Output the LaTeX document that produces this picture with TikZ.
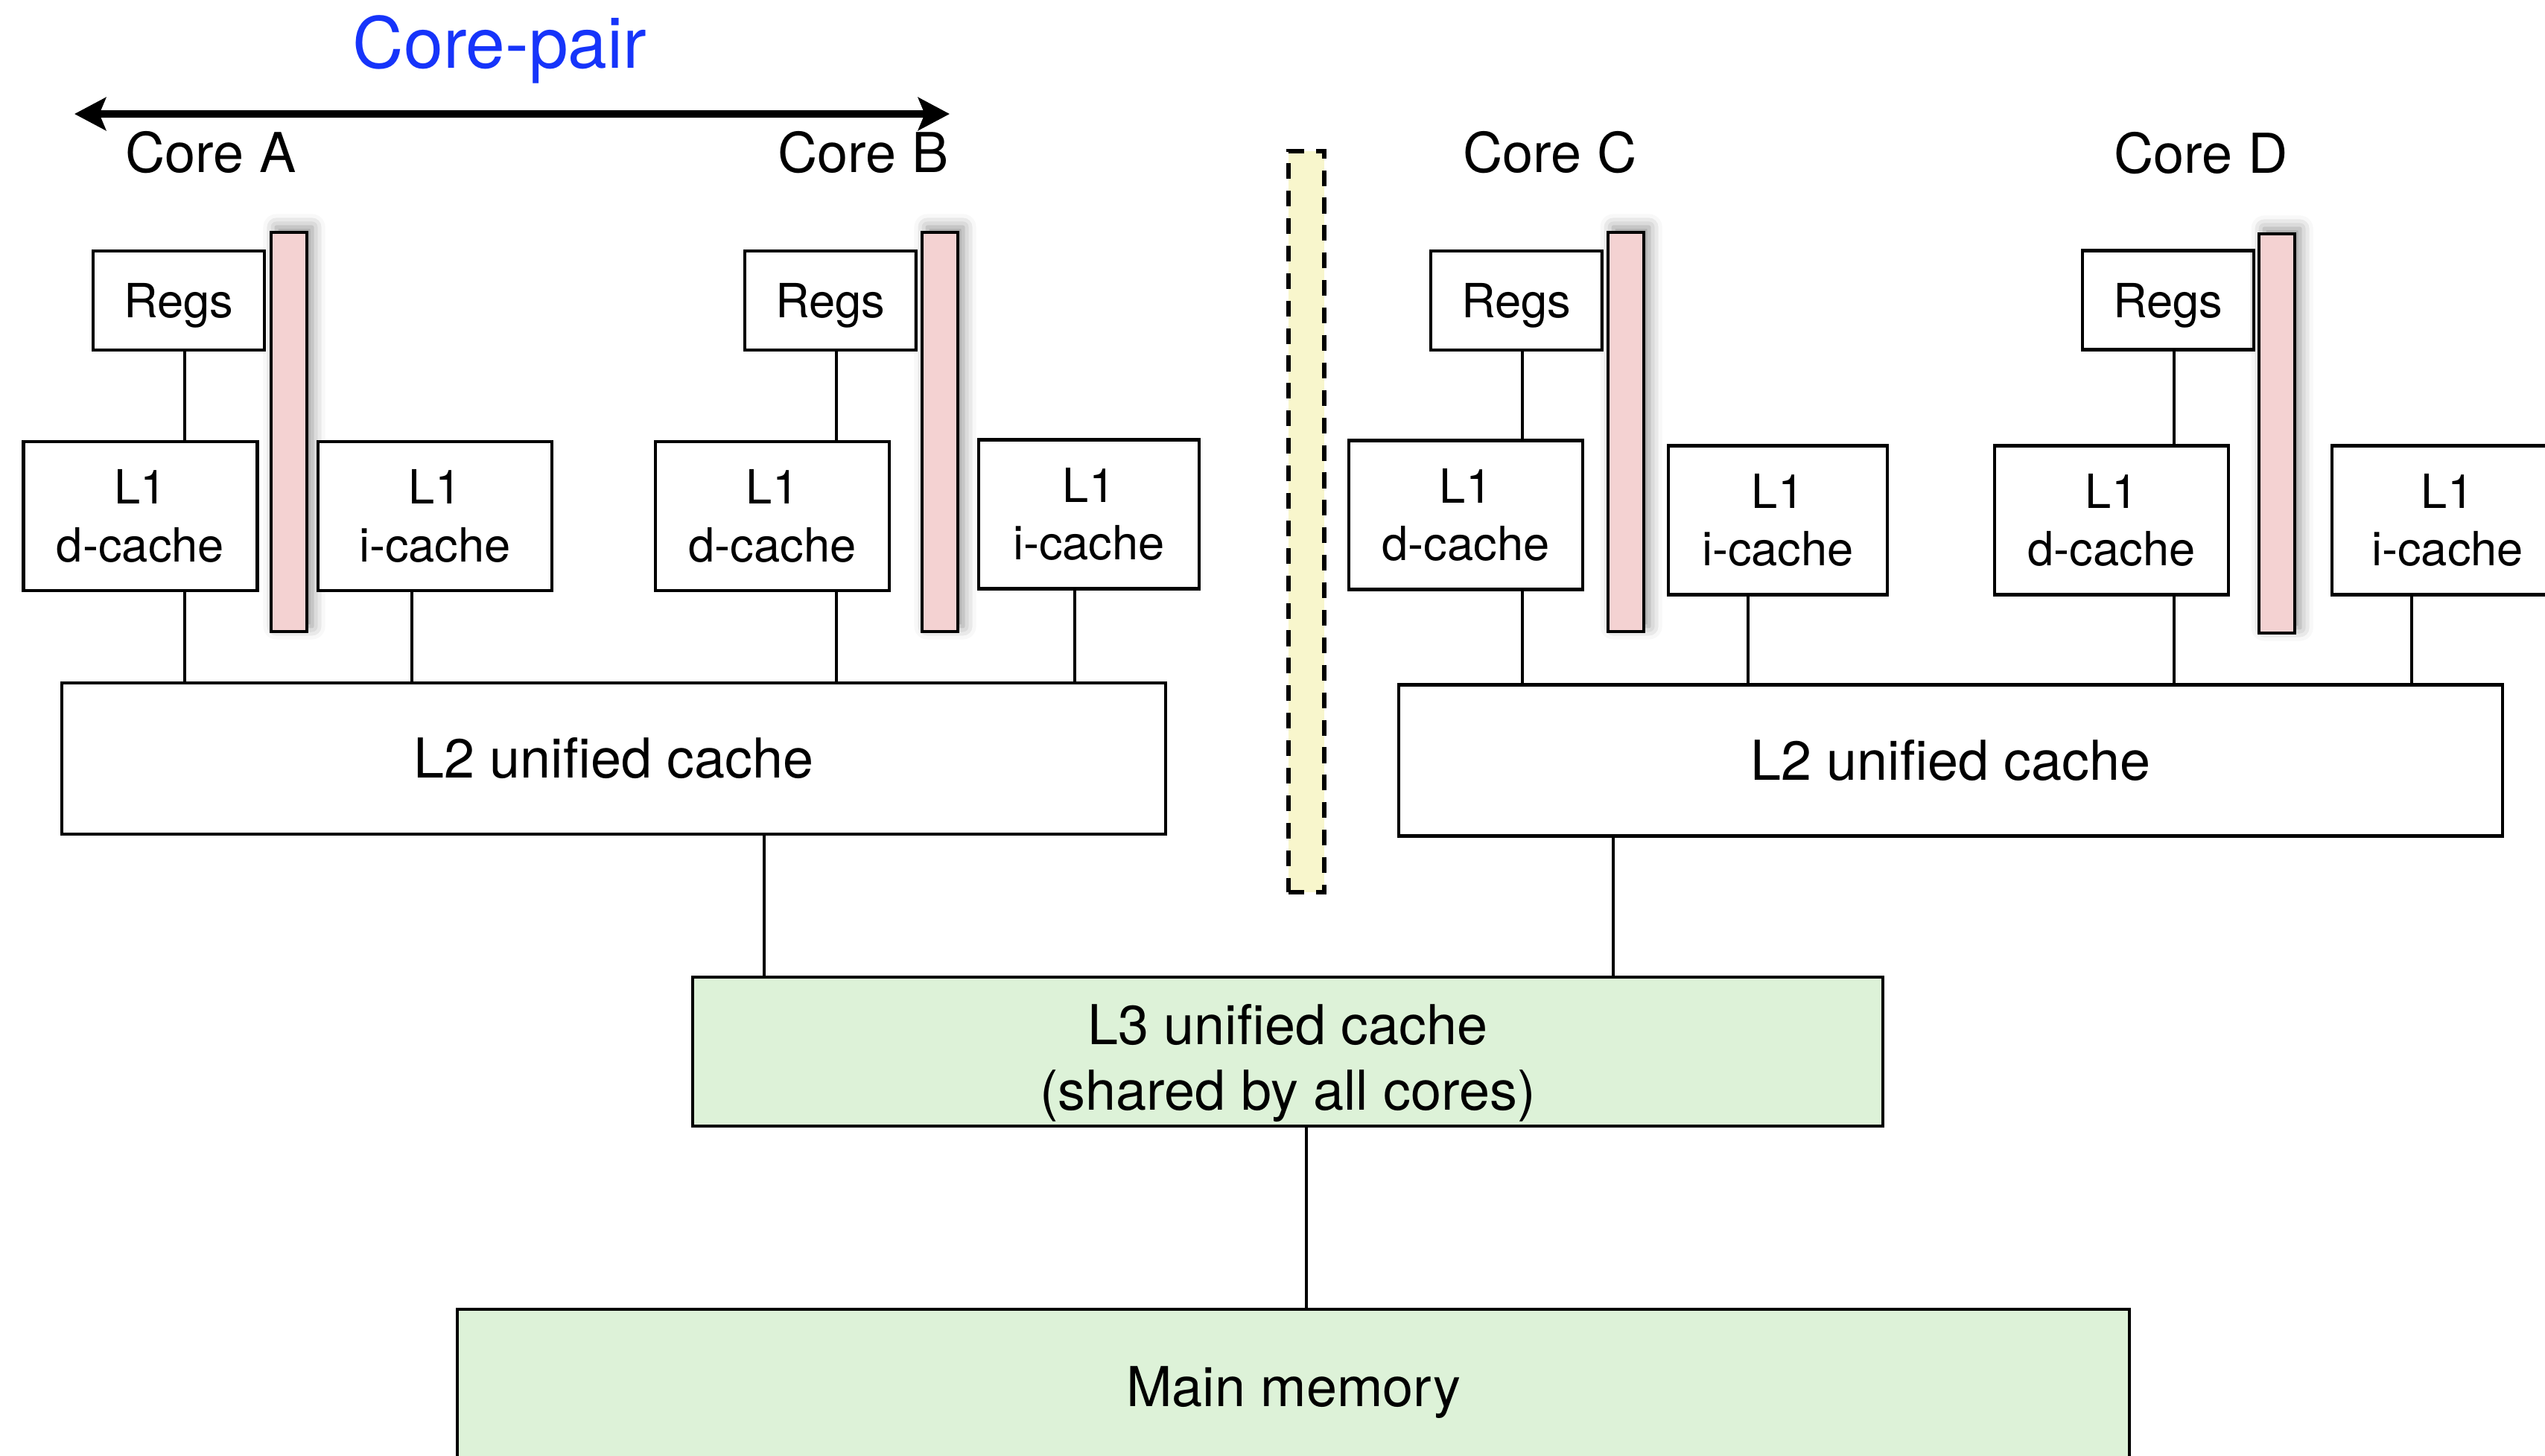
\documentclass[tikz,border=0pt]{standalone}
\usepackage{fontspec}
\setmainfont{TeX Gyre Heros}
\usetikzlibrary{arrows.meta,shadows.blur}

\definecolor{barpink}{RGB}{244,210,210}
\definecolor{divyellow}{RGB}{248,246,204}
\definecolor{memgreen}{RGB}{221,242,216}
\definecolor{pairblue}{RGB}{22,52,250}

\begin{document}
\begin{tikzpicture}[line width=1pt]
				\tikzstyle{every node}=[inner sep=0pt, outer sep=0pt]
				\tikzstyle{plainbox}=[draw, line width=1.2pt, fill=white, font=\fontsize{18}{22}\selectfont]
				\tikzstyle{regs}=[plainbox, minimum width=2.3cm, minimum height=1.33cm, text depth=0pt]
				\tikzstyle{cachebox}=[plainbox, minimum width=3.14cm, minimum height=2cm, align=center]
				\tikzstyle{unified}=[plainbox, minimum width=14.82cm, minimum height=2.03cm, 
				align=center, font=\fontsize{21}{25}\selectfont]
				\tikzstyle{sharedbox}=[unified, fill=memgreen, line width=1.4pt]
				\tikzstyle{corelabel}=[anchor=base, font=\fontsize{21}{25}\selectfont]
				\tikzstyle{busbar}=[draw, line width=1.4pt, fill=barpink, minimum width=0.48cm, 
				minimum height=5.36cm, blur shadow={shadow xshift=2pt, shadow yshift=2pt, 
				shadow blur radius=5pt, shadow opacity=45}]
				\useasboundingbox (0,0) rectangle (34.17,-19.55);
				% core pair arrow
				\node[anchor=base, text=pairblue, font=\fontsize{27}{32}\selectfont] (pair) at (6.71,-0.92) {Core-pair};
				\coordinate (pairL) at (1.0,-1.53);
				\coordinate (pairR) at (12.75,-1.53);
				\draw[line width=3pt, {Stealth[length=12pt,width=12.5pt,inset=2.5pt]}-{Stealth[length=12pt,width=12.5pt,inset=2.5pt]}] (pairL) -- (pairR);
				\node[corelabel] (coreA) at (2.83,-2.32) {Core A};
				\node[corelabel] (coreB) at (11.59,-2.32) {Core B};
				\node[corelabel] (coreC) at (20.81,-2.32) {Core C};
				\node[corelabel] (coreD) at (29.55,-2.33) {Core D};
				% registers
				\node[regs] (regsA) at (2.40,-4.035) {Regs};
				\node[regs] (regsB) at (11.15,-4.035) {Regs};
				\node[regs] (regsC) at (20.36,-4.035) {Regs};
				\node[regs] (regsD) at (29.11,-4.03) {Regs};
				% pink bars
				\node[busbar] (barA) at (3.88,-5.80) {};
				\node[busbar] (barB) at (12.62,-5.80) {};
				\node[busbar] (barC) at (21.83,-5.80) {};
				\node[busbar] (barD) at (30.57,-5.82) {};
				% L1 caches
				\node[cachebox] (l1dA) at (1.885,-6.93) {L1\\d-cache};
				\node[cachebox] (l1iA) at (5.84,-6.93) {L1\\i-cache};
				\node[cachebox] (l1dB) at (10.37,-6.93) {L1\\d-cache};
				\node[cachebox, minimum width=2.96cm] (l1iB) at (14.62,-6.905) {L1\\i-cache};
				\node[cachebox] (l1dC) at (19.68,-6.915) {L1\\d-cache};
				\node[cachebox, minimum width=2.94cm] (l1iC) at (23.87,-6.985) {L1\\i-cache};
				\node[cachebox] (l1dD) at (28.35,-6.985) {L1\\d-cache};
				\node[cachebox, minimum width=3.1cm] (l1iD) at (32.86,-6.985) {L1\\i-cache};
				% divider between the pairs
				\node[draw, line width=1.5pt, dash pattern=on 6pt off 4.5pt, fill=divyellow, minimum width=0.48cm, 
				minimum height=9.95cm] (divider) at (17.54,-7.005) {};
				% L2, L3, memory
				\node[unified] (l2L) at (8.24,-10.185) {L2 unified cache};
				\node[unified] (l2R) at (26.19,-10.21) {L2 unified cache};
				\node[sharedbox, minimum width=15.98cm, minimum height=2cm] (l3) at (17.29,-14.12) 
				{\rule{0pt}{24pt}L3 unified cache\\(shared by all cores)};
				\node[sharedbox, minimum width=22.45cm, minimum height=2.24cm] (mem) at (17.365,-18.70) 
				{Main memory};
				% connectors
				\draw ([xshift=0.8mm]regsA.south) -- ([xshift=0.8mm]regsA.south |- l1dA.north);
				\draw ([xshift=0.8mm]regsB.south) -- ([xshift=0.8mm]regsB.south |- l1dB.north);
				\draw ([xshift=0.8mm]regsC.south) -- ([xshift=0.8mm]regsC.south |- l1dC.north);
				\draw ([xshift=0.8mm]regsD.south) -- ([xshift=0.8mm]regsD.south |- l1dD.north);
				\draw ([xshift=0.8mm]regsA.south |- l1dA.south) -- ([xshift=0.8mm]regsA.south |- l2L.north);
				\draw ([xshift=0.8mm]regsB.south |- l1dB.south) -- ([xshift=0.8mm]regsB.south |- l2L.north);
				\draw ([xshift=0.8mm]regsC.south |- l1dC.south) -- ([xshift=0.8mm]regsC.south |- l2R.north);
				\draw ([xshift=0.8mm]regsD.south |- l1dD.south) -- ([xshift=0.8mm]regsD.south |- l2R.north);
				\draw ([xshift=-3.1mm]l1iA.south) -- ([xshift=-3.1mm]l1iA.south |- l2L.north);
				\draw ([xshift=-1.9mm]l1iB.south) -- ([xshift=-1.9mm]l1iB.south |- l2L.north);
				\draw ([xshift=-4mm]l1iC.south) -- ([xshift=-4mm]l1iC.south |- l2R.north);
				\draw ([xshift=-4.8mm]l1iD.south) -- ([xshift=-4.8mm]l1iD.south |- l2R.north);
				\draw ([xshift=20.2mm]l2L.south) -- ([xshift=20.2mm]l2L.south |- l3.north);
				\draw ([xshift=-45.3mm]l2R.south) -- ([xshift=-45.3mm]l2R.south |- l3.north);
				\draw ([xshift=2.5mm]l3.south) -- ([xshift=2.5mm]l3.south |- mem.north);
\end{tikzpicture}
\end{document}
